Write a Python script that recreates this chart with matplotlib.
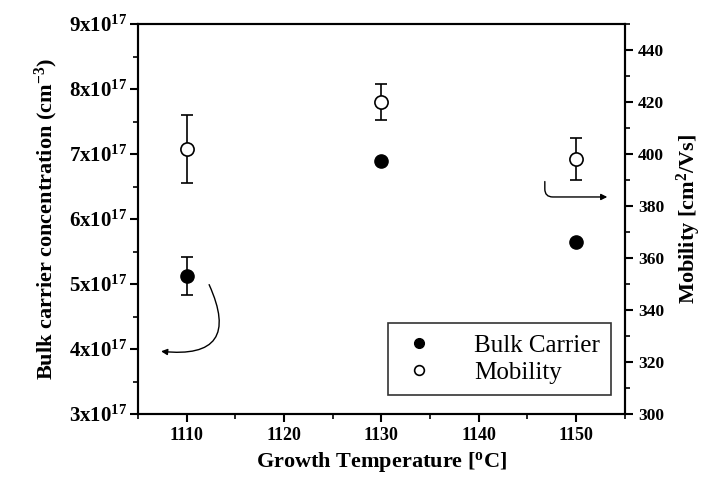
import matplotlib
matplotlib.use("Agg")
import matplotlib.pyplot as plt
from matplotlib.ticker import MultipleLocator, FuncFormatter
from matplotlib.lines import Line2D

plt.rcParams['font.family'] = ['Liberation Serif', 'DejaVu Serif']
plt.rcParams['mathtext.fontset'] = 'custom'
plt.rcParams['mathtext.rm'] = 'Liberation Serif:bold'
plt.rcParams['mathtext.it'] = 'Liberation Serif:bold'
plt.rcParams['mathtext.bf'] = 'Liberation Serif:bold'

# data
temps = [1110, 1130, 1150]
carrier = [5.12e17, 6.9e17, 5.65e17]
carrier_err = [0.29e17, 0, 0]
mobility = [402, 420, 398]
mobility_err = [13, 7, 8]

fig = plt.figure(figsize=(7.18, 4.82), dpi=100)
ax = fig.add_axes([0.192, 0.141, 0.678, 0.809])
ax2 = ax.twinx()

ax.errorbar(temps, carrier, yerr=carrier_err, fmt='o', color='black',
            ms=9.5, capsize=4, elinewidth=1.2, capthick=1.2)
ax2.errorbar(temps, mobility, yerr=mobility_err, fmt='o', mfc='white', mec='black',
             mew=1.2, color='black', ms=9.5, capsize=4, elinewidth=1.2, capthick=1.2)

ax.set_xlim(1105, 1155)
ax.set_ylim(3e17, 9e17)
ax2.set_ylim(300, 450)

ax.xaxis.set_major_locator(MultipleLocator(10))
ax.xaxis.set_minor_locator(MultipleLocator(5))
ax.yaxis.set_major_locator(MultipleLocator(1e17))
ax.yaxis.set_minor_locator(MultipleLocator(0.5e17))
ax2.yaxis.set_major_locator(MultipleLocator(20))
ax2.yaxis.set_minor_locator(MultipleLocator(10))
ax.yaxis.set_major_formatter(FuncFormatter(lambda v, p: r'$\mathrm{%dx10}^{17}$' % round(v / 1e17)))
ax2.set_yticks([300, 320, 340, 360, 380, 400, 420, 440])

for a in (ax, ax2):
    for s in a.spines.values():
        s.set_linewidth(1.5)
    a.tick_params(which='major', direction='out', length=6, width=1.5)
    a.tick_params(which='minor', direction='out', length=3.5, width=1.2)
ax.tick_params(axis='x', labelsize=13)
ax.tick_params(axis='y', labelsize=15, pad=2)
ax2.tick_params(axis='y', labelsize=12.5)
for lab in ax.get_xticklabels() + ax2.get_yticklabels():
    lab.set_fontweight('bold')

ax.set_xlabel('Growth Temperature [$^{o}$C]', fontsize=16, fontweight='bold', labelpad=4)
ax.set_ylabel('Bulk carrier concentration (cm$^{-3}$)', fontsize=16, fontweight='bold', labelpad=6)
ax2.set_ylabel('Mobility [cm$^{2}$/Vs]', fontsize=16, fontweight='bold', labelpad=8)

# curved arrows pointing to each axis
ax.annotate('', xy=(1107.1, 3.97e17), xytext=(1112.2, 5.03e17),
            arrowprops=dict(arrowstyle='-|>', color='black', lw=1, mutation_scale=9,
                            connectionstyle='arc3,rad=-0.9'))
ax2.annotate('', xy=(1153.5, 383.5), xytext=(1146.8, 390.5),
             arrowprops=dict(arrowstyle='-|>', color='black', lw=1, mutation_scale=9,
                             connectionstyle='angle,angleA=-90,angleB=180,rad=8'))

handles = [Line2D([], [], ls='none', marker='o', color='black', ms=7),
           Line2D([], [], ls='none', marker='o', mfc='white', mec='black', mew=1.2, ms=7)]
leg = ax2.legend(handles, ['Bulk Carrier', 'Mobility'], loc='lower right',
                 bbox_to_anchor=(0.983, 0.035), fontsize=18,
                 frameon=True, fancybox=False, handletextpad=1.4, borderpad=0.45,
                 labelspacing=0.2, handlelength=1.6, borderaxespad=0.2)
leg.get_frame().set_edgecolor('black')
leg.get_frame().set_linewidth(1.2)

fig.savefig('out.png', dpi=100)
